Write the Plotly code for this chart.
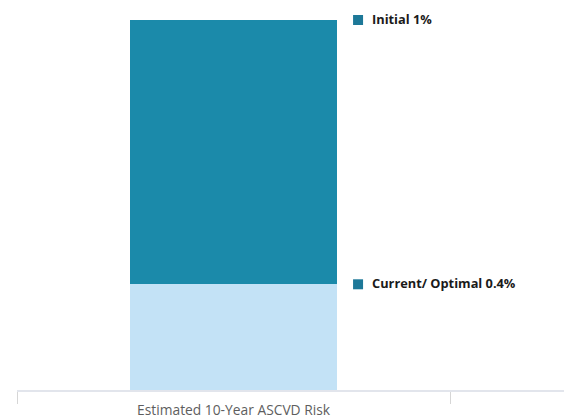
import plotly.graph_objects as go

# Estimated 10-year ASCVD risk, in percent
category = ["Estimated 10-Year ASCVD Risk"]
series_names = ["Current/ Optimal", "Initial"]
series_values = [0.4, 1.0]
bar_colors = ["#c3e2f6", "#1b8aaa"]
marker_color = "#1d7898"

x_range = [-0.5, 0.763]
label_x = 0.2875

fig = go.Figure()

# stacked segments: current risk at the bottom, initial risk on top
for name, val, col in zip(series_names, series_values, bar_colors):
    fig.add_trace(go.Bar(
        x=category, y=[val], name=name,
        marker=dict(color=col, line=dict(width=0)),
        hoverinfo="skip",
    ))

# square markers sitting at the top of each segment
tops = []
running = 0.0
for val in series_values:
    running += val
    tops.append(running)

fig.add_trace(go.Scatter(
    x=[label_x] * len(tops), y=tops, xaxis="x2", yaxis="y",
    mode="markers",
    marker=dict(symbol="square", size=10, color=marker_color),
    hoverinfo="skip",
))

for name, val, top in zip(series_names, series_values, tops):
    fig.add_annotation(
        x=label_x, y=top, xref="x2", yref="y",
        text=f"<b>{name} {val:g}%</b>",
        showarrow=False, xanchor="left", yanchor="middle",
        xshift=12, yshift=1,
        font=dict(family="Open Sans", size=12.8, color="#1a1a1a"),
    )

fig.update_layout(
    width=564, height=420,
    margin=dict(l=17, r=0, t=0, b=30),
    paper_bgcolor="white", plot_bgcolor="white",
    barmode="stack", bargap=0.522,
    showlegend=False,
    xaxis=dict(
        type="category", range=x_range, tickson="boundaries",
        ticks="outside", ticklen=12, tickwidth=1, tickcolor="#d6d6d6",
        ticklabelstandoff=6,
        showline=True, linecolor="#e2e5ec", linewidth=2,
        showgrid=False, zeroline=False,
        tickfont=dict(family="Open Sans", size=13.8, color="#5e5e5e"),
    ),
    xaxis2=dict(
        overlaying="x", range=x_range, visible=False,
    ),
    yaxis=dict(
        range=[0, 1.4757], visible=False, showgrid=False, zeroline=False,
    ),
)

fig.write_html("out.html")
